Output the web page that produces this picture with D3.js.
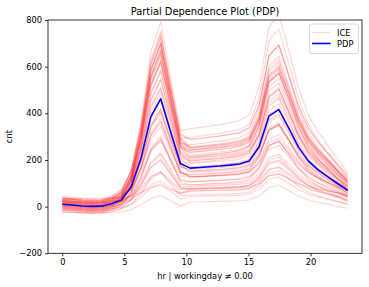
<!DOCTYPE html>
<html>
<head>
<meta charset="utf-8">
<script src="https://cdn.jsdelivr.net/npm/d3@7"></script>
<style>
  body { margin: 0; background: #fff; }
  svg { font-family: "DejaVu Sans", sans-serif; }
</style>
</head>
<body>
<div id="chartDiv"></div>
<script>
var width = 369,
    height = 287;

// grid of hr values (30 points from 0 to 23)
var hrGrid = [0, 0.79, 1.59, 2.38, 3.17, 3.97, 4.76, 5.55, 6.34, 7.14,
              7.93, 8.72, 9.52, 10.31, 11.1, 11.9, 12.69, 13.48, 14.28, 15.07,
              15.86, 16.66, 17.45, 18.24, 19.03, 19.83, 20.62, 21.41, 22.21, 23];

// averaged curve (PDP)
var pdpValues = [10, 7, 3, 1, 2, 12, 29, 84, 207, 386,
                 462, 322, 185, 165, 168, 171, 174, 178, 183, 196,
                 257, 389, 416, 338, 255, 195, 158, 128, 98, 70];

// individual curves (ICE): scale of the morning part, scale of the afternoon part, shift
var iceAm = [1.69, 1.62, 1.58, 1.55, 1.55, 1.52, 1.5, 1.5, 1.48, 1.46,
             1.45, 1.43, 1.42, 1.4, 1.38, 1.36, 1.33, 1.3, 1.28, 1.25,
             1.2, 1.15, 1.12, 1.08, 1.05, 1.0, 0.97, 0.93, 0.9, 0.88,
             0.85, 0.82, 0.8, 0.76, 0.72, 0.7, 0.65, 0.6, 0.56, 0.52,
             0.48, 0.45, 0.4, 0.36, 0.32, 0.28, 0.24, 0.2, 0.16, 0.12];
var icePm = [1.95, 1.85, 1.62, 1.7, 1.5, 1.6, 1.42, 1.55, 1.38, 1.5,
             1.35, 1.48, 1.3, 1.45, 1.4, 1.28, 1.35, 1.25, 1.32, 1.2,
             1.25, 1.1, 1.18, 1.0, 1.1, 0.95, 1.02, 0.9, 0.95, 0.82,
             0.9, 0.78, 0.85, 0.72, 0.75, 0.66, 0.7, 0.62, 0.6, 0.55,
             0.52, 0.48, 0.45, 0.42, 0.4, 0.36, 0.33, 0.3, 0.28, 0.25];
var iceShift = [12, -8, 20, -15, 5, 25, -20, 0, 15, -5,
                30, -12, 8, -25, 18, -2, 10, -18, 22, 3,
                -10, 14, -28, 6, 26, -6, 16, -22, 2, 11,
                -14, 24, -3, 9, -30, 19, -9, 4, 28, -16,
                7, -4, 13, -20, 1, 21, -11, 17, -26, 35];

var xTicks = [0, 5, 10, 15, 20];
var yTicks = [-200, 0, 200, 400, 600, 800];

var margin = {left: 48, right: 7, top: 20, bottom: 33.7};

var svg = d3.select("#chartDiv")
    .append("svg")
    .attr("width", width)
    .attr("height", height);

var x = d3.scaleLinear()
    .domain([-1.15, 24.15])
    .range([margin.left, width - margin.right]);

var y = d3.scaleLinear()
    .domain([-200, 800])
    .range([height - margin.bottom, margin.top]);

svg.append("clipPath")
    .attr("id", "plotClip")
    .append("rect")
    .attr("x", margin.left)
    .attr("y", margin.top)
    .attr("width", width - margin.left - margin.right)
    .attr("height", height - margin.top - margin.bottom);

var line = d3.line()
    .x(function (d) { return x(d[0]); })
    .y(function (d) { return y(d[1]); });

// build ICE curves from the PDP shape
var iceCurves = iceAm.map(function (a, i) {
    return hrGrid.map(function (h, j) {
        var s = h <= 9.6 ? a : icePm[i];
        return [h, pdpValues[j] * s + iceShift[i]];
    });
});

var plot = svg.append("g").attr("clip-path", "url(#plotClip)");

plot.append("g")
    .selectAll("path")
    .data(iceCurves)
    .enter().append("path")
    .attr("d", line)
    .attr("fill", "none")
    .attr("stroke", "red")
    .attr("stroke-opacity", 0.16)
    .attr("stroke-width", 1.2);

plot.append("path")
    .datum(hrGrid.map(function (h, j) { return [h, pdpValues[j]]; }))
    .attr("d", line)
    .attr("fill", "none")
    .attr("stroke", "blue")
    .attr("stroke-width", 1.6)
    .attr("stroke-linejoin", "round");

// axes
var xAxis = svg.append("g")
    .attr("transform", "translate(0," + (height - margin.bottom) + ")")
    .call(d3.axisBottom(x).tickValues(xTicks).tickSize(3).tickPadding(3).tickFormat(d3.format("d")));

var yAxis = svg.append("g")
    .attr("transform", "translate(" + margin.left + ",0)")
    .call(d3.axisLeft(y).tickValues(yTicks).tickSize(3).tickPadding(3)
        .tickFormat(function (d) { return d < 0 ? "\u2212" + Math.abs(d) : d; }));

[xAxis, yAxis].forEach(function (a) {
    a.select(".domain").remove();
    a.selectAll("line").attr("stroke", "#000").attr("stroke-width", 0.8);
    a.selectAll("text").attr("font-size", 8.3).attr("fill", "#000")
        .style("font-family", "DejaVu Sans");
});

// frame
svg.append("rect")
    .attr("x", margin.left)
    .attr("y", margin.top)
    .attr("width", width - margin.left - margin.right)
    .attr("height", height - margin.top - margin.bottom)
    .attr("fill", "none")
    .attr("stroke", "#000")
    .attr("stroke-width", 0.8);

// title and labels
svg.append("text")
    .attr("x", (margin.left + width - margin.right) / 2)
    .attr("y", 15)
    .attr("text-anchor", "middle")
    .attr("font-size", 9.9)
    .text("Partial Dependence Plot (PDP)");

svg.append("text")
    .attr("x", (margin.left + width - margin.right) / 2)
    .attr("y", 279)
    .attr("text-anchor", "middle")
    .attr("font-size", 8.3)
    .text("hr | workingday \u2260 0.00");

svg.append("text")
    .attr("transform", "translate(12," + ((margin.top + height - margin.bottom) / 2) + ") rotate(-90)")
    .attr("text-anchor", "middle")
    .attr("font-size", 8.3)
    .text("cnt");

// legend
var legend = svg.append("g");
legend.append("rect")
    .attr("x", 309.5)
    .attr("y", 24)
    .attr("width", 49)
    .attr("height", 29.5)
    .attr("rx", 2)
    .attr("fill", "#fff")
    .attr("fill-opacity", 0.8)
    .attr("stroke", "#d0d0d0")
    .attr("stroke-width", 0.8);

var legendItems = [
    {name: "ICE", color: "red", opacity: 0.16, width: 1.2, y: 32.5},
    {name: "PDP", color: "blue", opacity: 1, width: 1.6, y: 43.5}
];
legendItems.forEach(function (d) {
    legend.append("line")
        .attr("x1", 312).attr("x2", 330.5)
        .attr("y1", d.y).attr("y2", d.y)
        .attr("stroke", d.color)
        .attr("stroke-opacity", d.opacity)
        .attr("stroke-width", d.width);
    legend.append("text")
        .attr("x", 337)
        .attr("y", d.y + 3)
        .attr("font-size", 8.3)
        .text(d.name);
});
</script>
</body>
</html>
